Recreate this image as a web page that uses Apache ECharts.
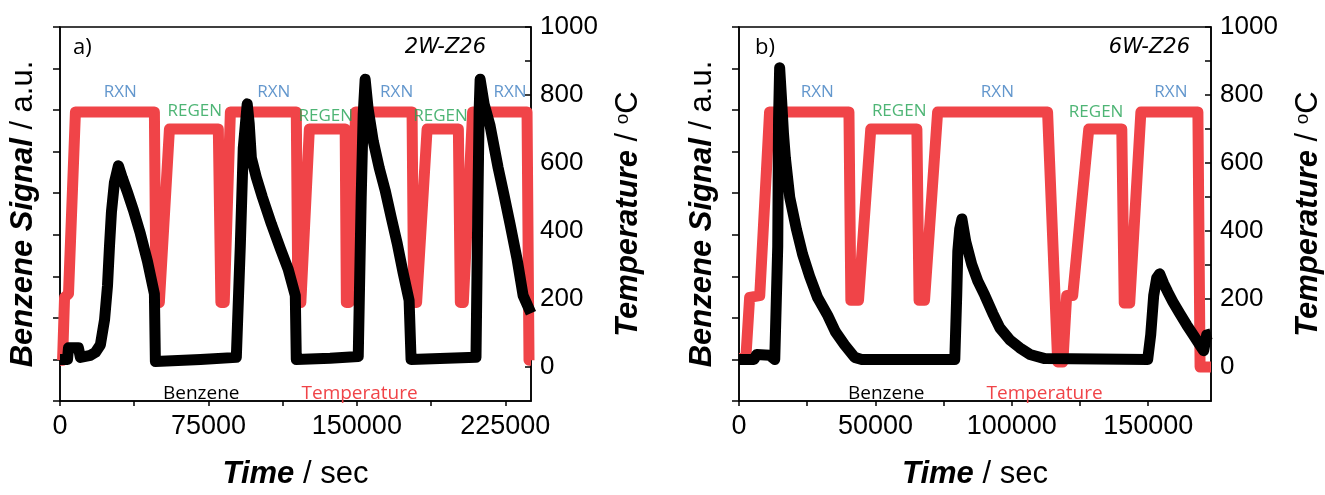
<!DOCTYPE html>
<html>
<head>
<meta charset="utf-8">
<script src="https://cdn.jsdelivr.net/npm/echarts@6/dist/echarts.min.js"></script>
<style>
  html, body { margin: 0; padding: 0; background: #fff; }
  #chart { width: 1325px; height: 495px; }
</style>
</head>
<body>
<div id="chart"></div>
<script>
// ---- Panel a) 2W-Z26 : time [s], benzene signal [a.u.], temperature [°C]
const benzeneA = [
  [0, 0], [3800, 0], [4300, 0.28], [9300, 0.28], [10300, 0.05], [15400, 0.1],
  [17900, 0.17], [20400, 0.35], [22500, 0.95], [24000, 1.77], [25000, 2.72], [26000, 3.55], [27500, 4.26], [29500, 4.66],
  [31500, 4.37], [34100, 4.02], [37100, 3.59], [40600, 3.03], [44200, 2.36], [47700, 1.58], [48200, -0.05],
  [71000, 0], [89100, 0.05], [91100, 2.72], [92600, 5.08], [94600, 6.15],
  [95600, 5.68], [96700, 4.85], [99200, 4.38], [102300, 3.9], [106800, 3.26], [111300, 2.67], [115300, 2.17], [118900, 1.54], [119400, 0],
  [136500, 0.03], [150700, 0.07], [152200, 3.9], [153200, 5.9], [154200, 6.74],
  [155700, 6.03], [158300, 5.25], [161300, 4.61], [164300, 4.07], [167300, 3.43], [170400, 2.79], [173400, 2.08], [176400, 1.42], [177400, 0],
  [210200, 0.05], [211200, 3.9], [211800, 6.0], [212300, 6.74],
  [214300, 6.15], [217300, 5.63], [221400, 4.61], [224400, 3.95], [227400, 3.26], [230900, 2.43], [234000, 1.54], [238000, 1.11]
];
const temperatureA = [
  [0, 20], [1300, 20], [2300, 205], [4300, 215], [7800, 750],
  [47700, 750], [48500, 190], [50200, 190], [55300, 700],
  [80000, 700], [81300, 190], [83000, 190], [86100, 750],
  [119400, 750], [120200, 190], [121700, 190], [126000, 700],
  [144100, 700], [144700, 190], [146100, 190], [149400, 750],
  [177900, 750], [178700, 190], [180200, 190], [185500, 700],
  [201300, 700], [202300, 190], [203800, 190], [208500, 750],
  [236000, 750], [237000, 20], [238000, 20]
];
// phase name, time, temperature at which the phase name sits
const phasesA = [
  ['RXN', 30500, 809], ['REGEN', 68100, 753], ['RXN', 108000, 809], ['REGEN', 134300, 737],
  ['RXN', 170100, 809], ['REGEN', 192300, 737], ['RXN', 227400, 809]
];
const timeTicksA = [0, 37500, 75000, 112500, 150000, 187500, 225000];
const timeLabelsA = [0, 75000, 150000, 225000];
const timeMaxA = 238000;

// ---- Panel b) 6W-Z26
const benzeneB = [
  [0, 0], [5500, 0], [6500, 0.12], [11200, 0.1], [13100, 0], [13800, 0],
  [14200, 2.72], [14500, 5.79], [14900, 7.02],
  [15600, 6.26], [16300, 5.44], [17000, 4.85], [18600, 3.9], [21100, 3.12], [23300, 2.53], [25900, 2.0],
  [28800, 1.49], [32500, 1.06], [35400, 0.66], [38700, 0.35], [42400, 0.05], [45000, 0],
  [79100, 0], [79800, 1.54], [80200, 2.6], [80900, 3.14], [81700, 3.38],
  [83100, 2.84], [85300, 2.29], [87500, 1.89], [90100, 1.54], [93000, 1.11], [95600, 0.76],
  [99300, 0.47], [102900, 0.28], [106600, 0.12], [112100, 0.02],
  [149800, 0], [150900, 0.59], [152000, 1.54], [153100, 1.96], [154200, 2.06],
  [155700, 1.82], [157100, 1.63], [159000, 1.39], [161500, 1.11], [164100, 0.83], [166700, 0.57],
  [168900, 0.35], [170300, 0.21], [171400, 0.59], [173000, 0.62]
];
const temperatureB = [
  [0, 25], [2500, 25], [3900, 205], [7600, 210], [11200, 750],
  [40300, 750], [41000, 196], [43800, 196], [48300, 700],
  [65200, 700], [66000, 196], [68000, 196], [72800, 750],
  [113100, 750], [116800, 15], [118700, 15], [120100, 210], [122300, 210], [128200, 700],
  [140300, 700], [141200, 188], [143200, 188], [147300, 750],
  [168200, 750], [169000, 0], [173000, 0]
];
const phasesB = [
  ['RXN', 28700, 809], ['REGEN', 58700, 753], ['RXN', 94700, 809], ['REGEN', 130900, 751], ['RXN', 158300, 809]
];
const timeTicksB = [0, 25000, 50000, 75000, 100000, 125000, 150000];
const timeLabelsB = [0, 50000, 100000, 150000];
const timeMaxB = 173000;

// ---- shared axes
const signalTicks = [-1, 0, 1, 2, 3, 4, 5, 6, 7, 8];
const tempTicks = [0, 100, 200, 300, 400, 500, 600, 700, 800, 900, 1000];
const tempLabels = [0, 200, 400, 600, 800, 1000];
const panelTags = ['a)', 'b)'];
const sampleNames = ['2W-Z26', '6W-Z26'];

const RED = '#F04448';
const BLUE = '#3C7DC0';
const GREEN = '#22A352';
const AXIS_FONT = '"Liberation Sans", Arial, sans-serif';
const NOTE_FONT = '"Open Sans", sans-serif';

const grids = [
  { left: 60, top: 27, width: 471, height: 381 },
  { left: 739, top: 27, width: 472, height: 381 }
];

const axisLine = { show: true, onZero: false, lineStyle: { color: '#000', width: 1.5 } };
const nameRich = {
  b: { fontFamily: AXIS_FONT, fontWeight: 'bold', fontStyle: 'italic', fontSize: 31, color: '#000' },
  r: { fontFamily: AXIS_FONT, fontWeight: 'normal', fontSize: 31, color: '#000' },
  s: { fontFamily: AXIS_FONT, fontWeight: 'normal', fontSize: 19, color: '#000', verticalAlign: 'top' }
};
const plainNumber = v => String(v);

function xAxisFor(i, ticks, labels, max) {
  return {
    type: 'value', gridIndex: i, min: 0, max: max, position: 'bottom',
    axisLine: axisLine,
    axisTick: { show: true, inside: false, length: 5, customValues: ticks, lineStyle: { color: '#000', width: 1.5 } },
    axisLabel: { customValues: labels, formatter: plainNumber, fontFamily: AXIS_FONT, fontSize: 27, color: '#000', margin: 12 },
    splitLine: { show: false },
    name: '{b|Time}{r| / sec}', nameLocation: 'middle', nameGap: 58,
    nameTextStyle: { rich: nameRich }
  };
}
function signalAxisFor(i) {
  return {
    type: 'value', gridIndex: i, min: -1, max: 8, position: 'left',
    axisLine: axisLine,
    axisTick: { show: true, inside: false, length: 7, customValues: signalTicks, lineStyle: { color: '#000', width: 1.5 } },
    axisLabel: { show: false },
    splitLine: { show: false },
    name: '{b|Benzene Signal}{r| / a.u.}', nameLocation: 'middle', nameGap: 21,
    nameTextStyle: { rich: nameRich }
  };
}
function tempAxisFor(i) {
  return {
    type: 'value', gridIndex: i, min: -100, max: 1000, position: 'right',
    axisLine: axisLine,
    axisTick: { show: true, inside: true, length: 6, customValues: tempTicks, lineStyle: { color: '#000', width: 1.5 } },
    axisLabel: { customValues: tempLabels, formatter: plainNumber, fontFamily: AXIS_FONT, fontSize: 26, color: '#000', margin: 9 },
    splitLine: { show: false },
    name: '{b|Temperature}{r| / }{s|o}{r|C}', nameLocation: 'middle', nameGap: 82,
    nameTextStyle: { rich: nameRich }
  };
}

function phaseSeries(i, phases) {
  return {
    type: 'scatter', xAxisIndex: i, yAxisIndex: 2 * i + 1, silent: true, z: 5,
    symbolSize: 1, itemStyle: { color: 'rgba(0,0,0,0)' },
    label: {
      show: true, position: 'inside', fontFamily: NOTE_FONT, fontSize: 17,
      formatter: p => p.name
    },
    data: phases.map(p => ({
      name: p[0], value: [p[1], p[2]],
      label: { color: p[0] === 'RXN' ? BLUE : GREEN }
    }))
  };
}
function lineSeries(name, i, yIdx, data, color, z) {
  return {
    name: name, type: 'line', xAxisIndex: i, yAxisIndex: yIdx, data: data,
    showSymbol: false, symbol: 'none', z: z, animation: false,
    lineStyle: { color: color, width: 11, join: 'round', cap: 'butt' },
    itemStyle: { color: color }
  };
}
function legendFor(left) {
  return {
    left: left, top: 377, orient: 'horizontal', selectedMode: false,
    itemWidth: 0, itemHeight: 22, itemGap: 57, padding: 5,
    itemStyle: { opacity: 0 },
    textStyle: { fontFamily: NOTE_FONT, fontSize: 19, lineHeight: 24 },
    data: [
      { name: 'Benzene', icon: 'rect', textStyle: { color: '#000' } },
      { name: 'Temperature', icon: 'rect', textStyle: { color: RED } }
    ]
  };
}

const option = {
  animation: false,
  backgroundColor: '#fff',
  grid: grids.map(g => Object.assign({ show: true, borderColor: '#000', borderWidth: 1.5, backgroundColor: 'transparent' }, g)),
  xAxis: [xAxisFor(0, timeTicksA, timeLabelsA, timeMaxA), xAxisFor(1, timeTicksB, timeLabelsB, timeMaxB)],
  yAxis: [signalAxisFor(0), tempAxisFor(0), signalAxisFor(1), tempAxisFor(1)],
  legend: [legendFor(153), legendFor(838)],
  series: [
    lineSeries('Temperature', 0, 1, temperatureA, RED, 2),
    lineSeries('Benzene', 0, 0, benzeneA, '#000', 3),
    phaseSeries(0, phasesA),
    lineSeries('Temperature', 1, 3, temperatureB, RED, 2),
    lineSeries('Benzene', 1, 2, benzeneB, '#000', 3),
    phaseSeries(1, phasesB)
  ],
  graphic: [
    { type: 'text', x: 73, y: 48, style: { text: panelTags[0], font: '22px ' + NOTE_FONT, fill: '#000', verticalAlign: 'middle' } },
    { type: 'text', x: 486, y: 48, style: { text: sampleNames[0], font: 'italic 21px "DejaVu Sans"', fill: '#000', align: 'right', verticalAlign: 'middle' } },
    { type: 'text', x: 755, y: 48, style: { text: panelTags[1], font: '22px ' + NOTE_FONT, fill: '#000', verticalAlign: 'middle' } },
    { type: 'text', x: 1190, y: 48, style: { text: sampleNames[1], font: 'italic 21px "DejaVu Sans"', fill: '#000', align: 'right', verticalAlign: 'middle' } }
  ]
};

const chart = echarts.init(document.getElementById('chart'), null, { renderer: 'canvas' });
chart.setOption(option);
</script>
</body>
</html>
